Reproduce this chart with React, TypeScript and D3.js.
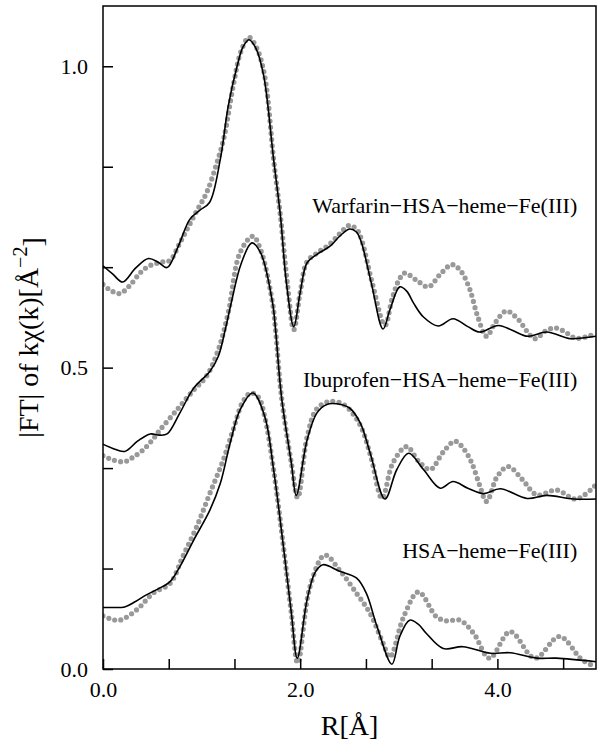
import * as d3 from "d3";
import { useEffect, useRef } from "react";

// Warfarin-HSA-heme-Fe(III): fit (solid) and experiment (dots)
const warfarinFitR = [0, 0.1, 0.2, 0.33, 0.46, 0.56, 0.65, 0.76, 0.88, 0.98, 1.08, 1.19, 1.27, 1.36, 1.42, 1.48, 1.55, 1.63, 1.73, 1.8, 1.86, 1.935, 2.0, 2.07, 2.17, 2.3, 2.4, 2.5, 2.57, 2.62, 2.72, 2.84, 2.91, 3.01, 3.08, 3.15, 3.25, 3.4, 3.55, 3.7, 3.82, 4.01, 4.15, 4.31, 4.5, 4.74, 4.9, 5.0];
const warfarinFit = [0.669, 0.655, 0.642, 0.665, 0.681, 0.675, 0.666, 0.7, 0.746, 0.761, 0.774, 0.846, 0.934, 1.0, 1.032, 1.044, 1.03, 0.984, 0.846, 0.751, 0.641, 0.568, 0.625, 0.674, 0.688, 0.701, 0.718, 0.73, 0.725, 0.708, 0.641, 0.564, 0.596, 0.634, 0.627, 0.607, 0.584, 0.569, 0.581, 0.568, 0.559, 0.57, 0.562, 0.552, 0.559, 0.548, 0.55, 0.552];
const warfarinExpR = [0, 0.08, 0.17, 0.27, 0.375, 0.46, 0.545, 0.62, 0.68, 0.78, 0.87, 0.95, 1.05, 1.15, 1.23, 1.32, 1.4, 1.48, 1.56, 1.64, 1.73, 1.8, 1.87, 1.935, 2.0, 2.07, 2.17, 2.3, 2.4, 2.5, 2.58, 2.63, 2.73, 2.86, 2.93, 3.0, 3.06, 3.18, 3.3, 3.42, 3.54, 3.63, 3.72, 3.8, 3.89, 3.98, 4.09, 4.2, 4.38, 4.48, 4.58, 4.68, 4.79, 4.9, 5.0];
const warfarinExp = [0.638, 0.628, 0.623, 0.636, 0.657, 0.668, 0.673, 0.676, 0.678, 0.707, 0.735, 0.76, 0.79, 0.837, 0.884, 0.967, 1.025, 1.048, 1.03, 0.984, 0.846, 0.751, 0.64, 0.563, 0.625, 0.676, 0.69, 0.705, 0.722, 0.736, 0.728, 0.708, 0.641, 0.57, 0.613, 0.645, 0.657, 0.645, 0.634, 0.655, 0.671, 0.66, 0.63, 0.585, 0.552, 0.575, 0.594, 0.582, 0.548, 0.56, 0.566, 0.56, 0.549, 0.551, 0.557];

// Ibuprofen-HSA-heme-Fe(III)
const ibuprofenFitR = [0, 0.1, 0.22, 0.35, 0.48, 0.57, 0.65, 0.78, 0.92, 1.085, 1.17, 1.24, 1.3, 1.4, 1.51, 1.6, 1.72, 1.75, 1.81, 1.91, 1.96, 2.07, 2.17, 2.27, 2.37, 2.5, 2.61, 2.71, 2.86, 2.98, 3.1, 3.25, 3.42, 3.55, 3.7, 3.86, 4.03, 4.3, 4.5, 4.77, 5.0];
const ibuprofenFit = [0.373, 0.366, 0.361, 0.378, 0.39, 0.388, 0.39, 0.425, 0.466, 0.494, 0.519, 0.563, 0.607, 0.672, 0.707, 0.69, 0.607, 0.563, 0.452, 0.342, 0.288, 0.38, 0.425, 0.439, 0.44, 0.433, 0.408, 0.358, 0.282, 0.331, 0.358, 0.331, 0.3, 0.311, 0.3, 0.291, 0.299, 0.283, 0.288, 0.282, 0.282];
const ibuprofenExpR = [0, 0.1, 0.22, 0.31, 0.41, 0.5, 0.58, 0.75, 0.92, 1.05, 1.17, 1.27, 1.39, 1.52, 1.6, 1.72, 1.75, 1.81, 1.91, 1.975, 2.07, 2.17, 2.3, 2.44, 2.55, 2.63, 2.72, 2.83, 2.94, 3.08, 3.2, 3.32, 3.45, 3.57, 3.66, 3.74, 3.82, 3.89, 4.0, 4.11, 4.25, 4.4, 4.6, 4.8, 5.0];
const ibuprofenExp = [0.354, 0.347, 0.344, 0.352, 0.364, 0.38, 0.397, 0.43, 0.463, 0.486, 0.53, 0.591, 0.691, 0.718, 0.695, 0.607, 0.563, 0.452, 0.342, 0.284, 0.385, 0.432, 0.444, 0.439, 0.42, 0.397, 0.35, 0.283, 0.342, 0.369, 0.345, 0.331, 0.36, 0.378, 0.365, 0.342, 0.305, 0.278, 0.32, 0.336, 0.315, 0.289, 0.297, 0.282, 0.306];

// HSA-heme-Fe(III)
const hsaFitR = [0, 0.1, 0.22, 0.33, 0.44, 0.56, 0.68, 0.78, 0.92, 1.085, 1.19, 1.29, 1.39, 1.52, 1.64, 1.73, 1.83, 1.91, 1.97, 2.07, 2.15, 2.23, 2.4, 2.57, 2.67, 2.78, 2.93, 3.01, 3.11, 3.2, 3.28, 3.45, 3.65, 3.93, 4.13, 4.4, 4.6, 5.0];
const hsaFit = [0.102, 0.102, 0.103, 0.112, 0.123, 0.133, 0.145, 0.17, 0.214, 0.264, 0.308, 0.375, 0.43, 0.458, 0.419, 0.331, 0.203, 0.093, 0.018, 0.115, 0.16, 0.173, 0.162, 0.151, 0.126, 0.07, 0.008, 0.054, 0.081, 0.074, 0.059, 0.034, 0.037, 0.026, 0.027, 0.018, 0.018, 0.012];
const hsaExpR = [0, 0.08, 0.17, 0.34, 0.51, 0.68, 0.81, 0.95, 1.085, 1.22, 1.32, 1.42, 1.5, 1.58, 1.64, 1.73, 1.83, 1.91, 1.975, 2.1, 2.25, 2.4, 2.57, 2.71, 2.84, 2.91, 3.05, 3.2, 3.38, 3.48, 3.62, 3.76, 3.92, 4.13, 4.38, 4.63, 4.86, 5.0];
const hsaExp = [0.088, 0.083, 0.081, 0.098, 0.126, 0.142, 0.187, 0.236, 0.292, 0.347, 0.397, 0.444, 0.458, 0.45, 0.419, 0.331, 0.203, 0.093, 0.01, 0.137, 0.189, 0.164, 0.126, 0.092, 0.043, 0.02, 0.087, 0.128, 0.087, 0.08, 0.081, 0.059, 0.018, 0.062, 0.018, 0.054, 0.015, 0.004];

const labels = ["Warfarin\u2212HSA\u2212heme\u2212Fe(III)", "Ibuprofen\u2212HSA\u2212heme\u2212Fe(III)", "HSA\u2212heme\u2212Fe(III)"];
const labelY = [0.756, 0.468, 0.184];

const yTicks = [0, 1, 2, 3, 4, 5, 6].map((i) => i / 6);
const xTicks = [0, 1, 2, 3, 4, 5, 6, 7].map((i) => (i * 2) / 3);
const yLabelTicks = [0, 0.5, 1.0];
const xLabelTicks = [0, 2, 4];

const W = 603;
const H = 747;
const margin = { top: 6, right: 7, bottom: 78, left: 103 };
const font = "'Liberation Serif', 'Times New Roman', serif";

const App = () => {
  const ref = useRef<SVGSVGElement>(null);

  useEffect(() => {
    const svg = d3.select(ref.current);
    svg.selectAll("*").remove();

    const width = W - margin.left - margin.right;
    const height = H - margin.top - margin.bottom;

    const x = d3.scaleLinear().domain([0, 5]).range([0, width]);
    const y = d3.scaleLinear().domain([0, 1.1]).range([height, 0]);

    const g = svg.append("g").attr("transform", `translate(${margin.left},${margin.top})`);

    g.append("clipPath").attr("id", "plotclip")
      .append("rect").attr("width", width).attr("height", height);

    const line = d3.line<[number, number]>()
      .x((d) => x(d[0]))
      .y((d) => y(d[1]))
      .curve(d3.curveCatmullRom.alpha(0.5));

    const zip = (rs: number[], vs: number[]) => rs.map((r, i) => [r, vs[i]] as [number, number]);

    const exps = [zip(warfarinExpR, warfarinExp), zip(ibuprofenExpR, ibuprofenExp), zip(hsaExpR, hsaExp)];
    const fits = [zip(warfarinFitR, warfarinFit), zip(ibuprofenFitR, ibuprofenFit), zip(hsaFitR, hsaFit)];

    const plot = g.append("g").attr("clip-path", "url(#plotclip)");

    // experimental data as grey dots
    exps.forEach((d) => {
      plot.append("path")
        .attr("d", line(d))
        .attr("fill", "none")
        .attr("stroke", "#999")
        .attr("stroke-width", 5.2)
        .attr("stroke-linecap", "round")
        .attr("stroke-dasharray", "0 6.2");
    });

    // fits
    fits.forEach((d) => {
      plot.append("path")
        .attr("d", line(d))
        .attr("fill", "none")
        .attr("stroke", "#000")
        .attr("stroke-width", 1.6);
    });

    // y axis
    const yAxis = g.append("g")
      .call(d3.axisLeft(y).tickValues(yTicks).tickSizeInner(-10).tickSizeOuter(0).tickPadding(15)
        .tickFormat((d) => (yLabelTicks.some((v) => Math.abs(v - +d) < 1e-6) ? d3.format(".1f")(+d) : "")));
    // x axis
    const xAxis = g.append("g")
      .attr("transform", `translate(0,${height})`)
      .call(d3.axisBottom(x).tickValues(xTicks).tickSizeInner(-10).tickSizeOuter(0).tickPadding(12)
        .tickFormat((d) => (xLabelTicks.some((v) => Math.abs(v - +d) < 1e-6) ? d3.format(".1f")(+d) : "")));

    [yAxis, xAxis].forEach((a) => {
      a.select(".domain").remove();
      a.selectAll("line").attr("stroke", "#000").attr("stroke-width", 1.5);
      a.selectAll("text").attr("font-family", font).attr("font-size", 22).attr("fill", "#000");
    });

    // frame
    g.append("rect")
      .attr("width", width).attr("height", height)
      .attr("fill", "none").attr("stroke", "#000").attr("stroke-width", 1.5);

    // curve labels
    labels.forEach((t, i) => {
      g.append("text")
        .attr("x", x(4.81))
        .attr("y", y(labelY[i]))
        .attr("text-anchor", "end")
        .attr("font-family", font)
        .attr("font-size", 22)
        .text(t);
    });

    // X label
    svg.append("text")
      .attr("x", margin.left + width / 2)
      .attr("y", 735)
      .attr("text-anchor", "middle")
      .attr("font-family", font)
      .attr("font-size", 28)
      .text("R[\u00c5]");

    // Y label
    const yl = svg.append("text")
      .attr("transform", `translate(38,${margin.top + height / 2}) rotate(-90)`)
      .attr("text-anchor", "middle")
      .attr("font-family", font)
      .attr("font-size", 28);
    yl.append("tspan").text("|FT| of k\u03c7(k)[\u00c5");
    yl.append("tspan").attr("dy", "-0.55em").attr("font-size", 20).text("\u22122");
    yl.append("tspan").attr("dy", "0.55em").text("]");
  }, []);

  return (
    <div style={{ position: "absolute", left: 0, top: 0 }}>
      <svg ref={ref} width={W} height={H} style={{ display: "block", background: "#fff" }} />
    </div>
  );
};

export default App;
